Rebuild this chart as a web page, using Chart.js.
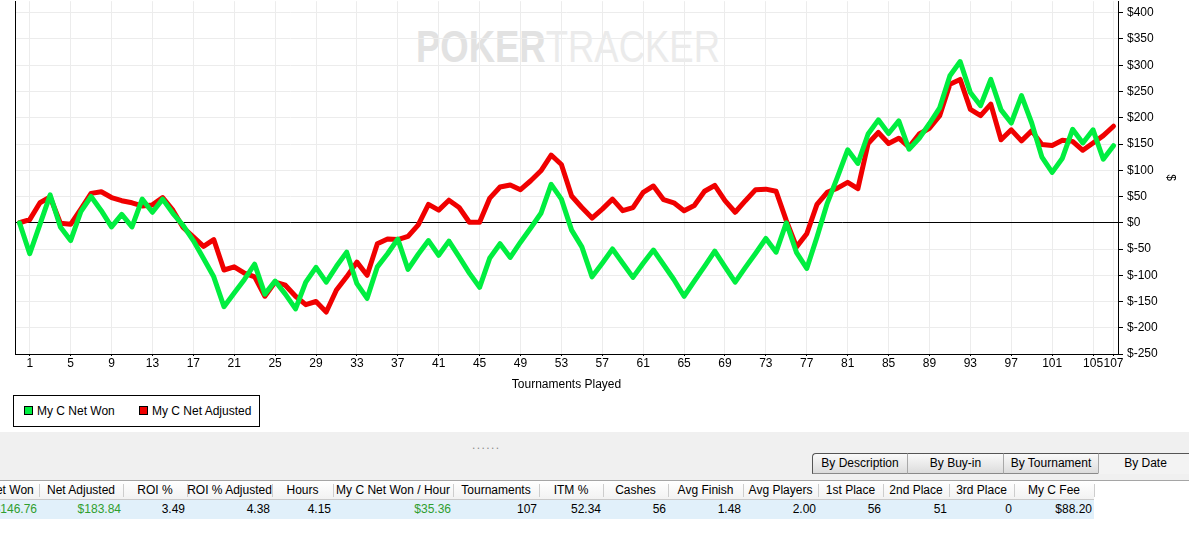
<!DOCTYPE html>
<html>
<head>
<meta charset="utf-8">
<script src="https://cdn.jsdelivr.net/npm/chart.js@4.4.1/dist/chart.umd.min.js"></script>
<style>
  html, body { margin:0; padding:0; background:#fff; width:1189px; height:536px; overflow:hidden;
    font-family:"Liberation Sans", Arial, sans-serif; font-size:12px; color:#000; }
  #wm { position:absolute; left:416px; top:24px; white-space:nowrap; font-size:47px; line-height:47px;
    transform-origin:0 0; z-index:0; }
  #wm .a { color:#e2e2e2; font-weight:bold; }
  #wm .b { color:#ebebeb; font-weight:normal; }
  #chartWrap { position:absolute; left:0; top:-10px; width:1189px; height:402px; z-index:1; }
  #legend { position:absolute; left:13px; top:395px; width:245px; height:30px; border:1px solid #000; background:#fff; }
  .lg { position:absolute; top:8px; height:14px; line-height:14px; white-space:nowrap; }
  .lg .sw { display:inline-block; width:7px; height:7px; border:1px solid #000; vertical-align:middle; margin-right:4px; position:relative; top:-1px; }
  #panel { position:absolute; left:0; top:432px; width:1189px; height:48px; background:#f0f0f0; }
  #dots { position:absolute; left:472px; top:438px; color:#8c8c8c; font-size:12px; letter-spacing:1.4px; }
  #tabs { position:absolute; left:812px; top:453px; height:21px; width:380px; }
  .tab { position:absolute; top:0; height:19px; line-height:19px; text-align:center; border-top:1px solid #555;
    border-bottom:1px solid #8a8a8a; background:linear-gradient(#fafafa,#dcdcdc); box-sizing:content-box; }
  .tab.sel { background:#f3f3f3; border-bottom:1px solid #f3f3f3; }
  #hdr { position:absolute; left:0; top:480px; width:1189px; height:18px; border-top:1px solid #a5a5a5; background:#fff; }
  #hdrBar { position:absolute; left:0; top:481px; width:1094px; height:18px; background:linear-gradient(#ffffff,#f2f2f2); border-bottom:1px solid #c9c9c9; }
  #row { position:absolute; left:0; top:500px; width:1094px; height:19px; background:#e1f0fa; }
  .hc { position:absolute; top:481px; height:18px; line-height:18px; text-align:center; white-space:nowrap; overflow:hidden; }
  .sep { position:absolute; top:484px; height:13px; width:1px; background:#cdcdcd; }
  .vc { position:absolute; top:500px; height:19px; line-height:19px; text-align:right; white-space:nowrap; overflow:hidden; box-sizing:border-box; padding-right:2px; }
  .money { color:#2f9e2f; }
</style>
</head>
<body>
<div id="wm"><span class="a">POKER</span><span class="b">TRACKER</span></div>
<div id="chartWrap"><canvas id="c" width="1189" height="402" style="width:1189px;height:402px"></canvas></div>
<div id="legend"></div>
<div id="panel"></div>
<div id="dots">......</div>
<div id="tabs"></div>
<div id="hdr"></div>
<div id="hdrBar"></div>
<div id="row"></div>
<div id="table"></div>
<script>
// ---------------- data ----------------
const seriesLabels = ['My C Net Won', 'My C Net Adjusted'];
const netWon = [
  0, -59, -3, 53, -8, -34, 21, 50, 23, -8,
  16, -8, 45, 20, 45, 18, -5, -34, -68, -103,
  -160, -134, -108, -79, -136, -111, -136, -164, -113, -85,
  -113, -83, -56, -116, -144, -84, -59, -31, -89, -60,
  -34, -62, -35, -65, -96, -123, -67, -40, -66, -37,
  -10, 18, 73, 45, -14, -46, -103, -77, -50, -77,
  -104, -77, -52, -80, -108, -140, -111, -83, -54, -84,
  -113, -85, -58, -30, -56, 0, -57, -87, -27, 37,
  87, 139, 113, 169, 196, 170, 194, 140, 161, 189,
  219, 280, 307, 248, 223, 273, 215, 190, 242, 190,
  125, 96, 123, 178, 152, 177, 121, 146.76
];
const netAdjusted = [
  0, 6, 38, 49, -1, -3, 26, 56, 59, 48,
  42, 38, 32, 34, 48, 24, -9, -27, -45, -32,
  -90, -84, -96, -103, -140, -113, -119, -140, -156, -150,
  -170, -128, -103, -75, -100, -40, -31, -32, -26, -4,
  35, 24, 43, 29, 1, 1, 47, 68, 72, 63,
  80, 99, 129, 111, 51, 29, 9, 26, 45, 23,
  29, 58, 70, 44, 38, 23, 33, 60, 71, 42,
  20, 42, 63, 64, 60, 4, -46, -21, 35, 58,
  66, 77, 65, 151, 172, 151, 161, 144, 169, 180,
  204, 264, 273, 216, 204, 226, 158, 177, 156, 175,
  149, 147, 157, 155, 138, 152, 166, 183.84
];
const xTickLabels = [1,5,9,13,17,21,25,29,33,37,41,45,49,53,57,61,65,69,73,77,81,85,89,93,97,101,105,107];
const yTickValues = [-250,-200,-150,-100,-50,0,50,100,150,200,250,300,350,400];
const xAxisTitle = 'Tournaments Played';
const yAxisTitle = '$';

const tableHeaders = ['Net Won','Net Adjusted','ROI %','ROI % Adjusted','Hours','My C Net Won / Hour','Tournaments','ITM %','Cashes','Avg Finish','Avg Players','1st Place','2nd Place','3rd Place','My C Fee'];
const tableValues  = ['$146.76','$183.84','3.49','4.38','4.15','$35.36','107','52.34','56','1.48','2.00','56','51','0','$88.20'];
const moneyColumns = [0,1,5];
const tabLabels = ['By Description','By Buy-in','By Tournament','By Date'];

// ---------------- layout constants ----------------
const colEdges = [-18, 39, 123, 187, 272, 333, 453, 539, 603, 668, 743, 818, 883, 949, 1014, 1094];
const tabEdges = [812, 907, 1003, 1098, 1192];
const lineGreen = 'rgb(0,238,64)';
const lineRed = 'rgb(240,0,0)';

// ---------------- chart ----------------
Chart.defaults.font.family = '"Liberation Sans", Arial, sans-serif';
Chart.defaults.font.size = 12;
Chart.defaults.color = '#000';

const toPts = arr => arr.map((v, i) => ({ x: i, y: v }));

new Chart(document.getElementById('c'), {
  type: 'line',
  data: {
    datasets: [
      { label: seriesLabels[0], data: toPts(netWon), borderColor: lineGreen, backgroundColor: lineGreen,
        borderWidth: 5, pointRadius: 0, tension: 0, borderJoinStyle: 'round', borderCapStyle: 'round', fill: false },
      { label: seriesLabels[1], data: toPts(netAdjusted), borderColor: lineRed, backgroundColor: lineRed,
        borderWidth: 5, pointRadius: 0, tension: 0, borderJoinStyle: 'round', borderCapStyle: 'round', fill: false }
    ]
  },
  options: {
    responsive: false,
    animation: false,
    events: [],
    layout: { padding: 0 },
    plugins: { legend: { display: false }, tooltip: { enabled: false } },
    scales: {
      x: {
        type: 'linear', position: 'bottom', min: -0.44, max: 107.44,
        afterBuildTicks: s => { s.ticks = xTickLabels.map(v => ({ value: v })); },
        afterFit: s => { s.height = 38; },
        ticks: { autoSkip: false, maxRotation: 0, minRotation: 0, padding: 0, callback: v => String(v) },
        grid: { color: '#ececec', tickLength: 2, tickColor: '#000', lineWidth: 1 },
        border: { display: true, color: '#000', width: 1 },
        title: { display: true, text: xAxisTitle, padding: { top: 0, bottom: 0 } }
      },
      y: {
        type: 'linear', position: 'right', min: -250, max: 422,
        afterBuildTicks: s => { s.ticks = yTickValues.map(v => ({ value: v })); },
        afterFit: s => { s.width = 71; },
        ticks: { padding: 4, callback: v => '$' + v },
        grid: { color: ctx => (ctx.tick && ctx.tick.value === 0) ? '#000' : '#ececec', tickLength: 5, tickColor: '#000', lineWidth: 1 },
        border: { display: true, color: '#000', width: 1 },
        title: { display: true, text: yAxisTitle, padding: { top: 11, bottom: 0 } }
      },
      yLeft: {
        type: 'linear', position: 'left', min: -250, max: 422,
        afterFit: s => { s.width = 15; },
        ticks: { display: false },
        grid: { drawOnChartArea: false, drawTicks: false },
        border: { display: true, color: '#000', width: 1 }
      }
    }
  }
});

// ---------------- legend ----------------
const legend = document.getElementById('legend');
const legendColors = [lineGreen, lineRed];
const legendLefts = [10, 125];
seriesLabels.forEach((lab, i) => {
  const d = document.createElement('div');
  d.className = 'lg';
  d.style.left = legendLefts[i] + 'px';
  d.innerHTML = '<span class="sw" style="background:' + legendColors[i] + '"></span>' + lab;
  legend.appendChild(d);
});

// ---------------- watermark sizing ----------------
const wm = document.getElementById('wm');
const wmW = wm.getBoundingClientRect().width;
wm.style.transform = 'scale(' + (304 / wmW) + ',0.95)';

// ---------------- tabs ----------------
const tabs = document.getElementById('tabs');
tabLabels.forEach((t, i) => {
  const d = document.createElement('div');
  d.className = 'tab' + (i === tabLabels.length - 1 ? ' sel' : '');
  d.style.left = (tabEdges[i] - tabEdges[0]) + 'px';
  d.style.width = (tabEdges[i + 1] - tabEdges[i] - 1) + 'px';
  d.style.borderLeft = i === 0 ? '1px solid #555' : '1px solid #a8a8a8';
  if (i === 0) d.style.borderTopLeftRadius = '4px';
  d.textContent = t;
  tabs.appendChild(d);
});

// ---------------- table ----------------
const table = document.getElementById('table');
tableHeaders.forEach((h, i) => {
  const L = colEdges[i], R = colEdges[i + 1];
  const hc = document.createElement('div');
  hc.className = 'hc';
  hc.style.left = L + 'px'; hc.style.width = (R - L) + 'px';
  hc.textContent = h;
  table.appendChild(hc);
  const sp = document.createElement('div');
  sp.className = 'sep'; sp.style.left = R + 'px';
  table.appendChild(sp);
  const vc = document.createElement('div');
  vc.className = 'vc' + (moneyColumns.includes(i) ? ' money' : '');
  vc.style.left = L + 'px'; vc.style.width = (R - L) + 'px';
  vc.textContent = tableValues[i];
  table.appendChild(vc);
});
</script>
</body>
</html>
